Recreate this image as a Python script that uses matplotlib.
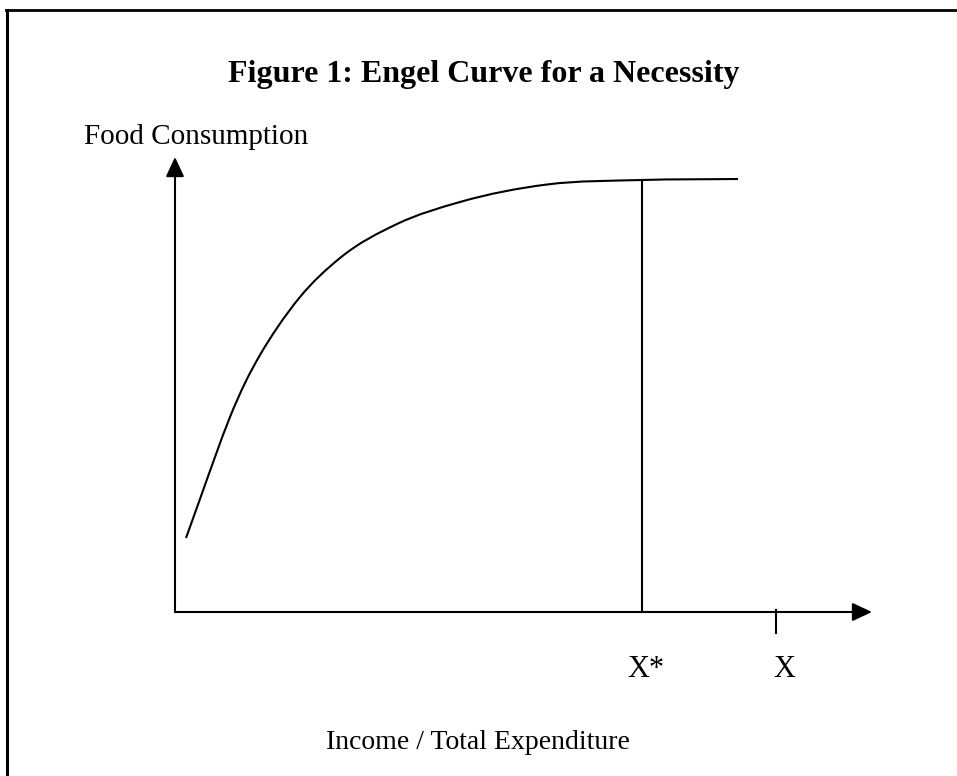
import matplotlib
matplotlib.use("Agg")
import matplotlib.pyplot as plt
from matplotlib.lines import Line2D
from matplotlib.path import Path
from matplotlib.patches import PathPatch

# Engel curve data (income units, food units)
income = [1.1, 2.5, 4.0, 5.5, 7.0, 8.5, 10.2, 12.5, 16.5, 22.2, 28.5, 37.2, 46.7, 56.3]
food = [7.4, 11.3, 15.5, 19.5, 22.9, 25.7, 28.4, 31.5, 35.4, 38.8, 41.0, 42.75, 43.2, 43.3]
x_star = 46.7
x_star_food = 43.2
x_mark = 60.1
x_axis_end = 69.7
y_axis_end = 45.5

title = "Figure 1: Engel Curve for a Necessity"
ylabel = "Food Consumption"
xlabel = "Income / Total Expenditure"
tick_labels = ["X*", "X"]

W, H = 957, 776
fig = plt.figure(figsize=(W / 100, H / 100), dpi=100)
ax = fig.add_axes([0, 0, 1, 1])
ax.set_xlim(-17.5, 78.2)
ax.set_ylim(-16.4, 61.2)
ax.axis("off")

serif = ["Liberation Serif", "DejaVu Serif"]
lw = 1.5

# border box (extends beyond the right/bottom edges)
fig.add_artist(Line2D([6 / W, 1.0], [1 - 9.5 / H, 1 - 9.5 / H], color="black", lw=2,
                      transform=fig.transFigure))
fig.add_artist(Line2D([6.5 / W, 6.5 / W], [0, 1 - 9.5 / H], color="black", lw=2.2,
                      transform=fig.transFigure))

# axes with arrows
arrow = dict(arrowstyle="-|>,head_length=0.6,head_width=0.28", color="black",
             lw=lw, shrinkA=0, shrinkB=0, mutation_scale=20)
ax.annotate("", xy=(x_axis_end, 0), xytext=(0, 0), arrowprops=arrow)
ax.annotate("", xy=(0, y_axis_end), xytext=(0, 0), arrowprops=arrow)

# smooth curve through the read points: cubic Bezier segments with
# three-point (parabolic) tangents
n = len(income)
h = [income[i + 1] - income[i] for i in range(n - 1)]
d = [(food[i + 1] - food[i]) / h[i] for i in range(n - 1)]
m = [0.0] * n
m[0] = d[0]
m[-1] = d[-1]
for k in range(1, n - 1):
    m[k] = (h[k] * d[k - 1] + h[k - 1] * d[k]) / (h[k - 1] + h[k])
verts = [(income[0], food[0])]
codes = [Path.MOVETO]
for i in range(n - 1):
    dx = h[i] / 3
    verts += [(income[i] + dx, food[i] + dx * m[i]),
              (income[i + 1] - dx, food[i + 1] - dx * m[i + 1]),
              (income[i + 1], food[i + 1])]
    codes += [Path.CURVE4] * 3
ax.add_patch(PathPatch(Path(verts, codes), facecolor="none", edgecolor="black",
                       lw=lw, capstyle="butt"))

# vertical line at X*
ax.plot([x_star, x_star], [0, x_star_food], color="black", lw=lw)
# tick at X
ax.plot([x_mark, x_mark], [0.2, -2.1], color="black", lw=lw)

def fx(px):
    return px / W

def fy(py):
    return 1 - py / H

fig.text(fx(484), fy(82), title, ha="center", va="baseline", fontsize=23,
         fontweight="bold", family=serif)
fig.text(fx(84), fy(144), ylabel, ha="left", va="baseline", fontsize=21, family=serif)
fig.text(fx(478), fy(749), xlabel, ha="center", va="baseline", fontsize=20, family=serif)
fig.text(fx(646), fy(677), tick_labels[0], ha="center", va="baseline", fontsize=22,
         family=serif)
fig.text(fx(784), fy(677), tick_labels[1], ha="center", va="baseline", fontsize=22,
         family=serif)

fig.savefig("out.png", dpi=100)
